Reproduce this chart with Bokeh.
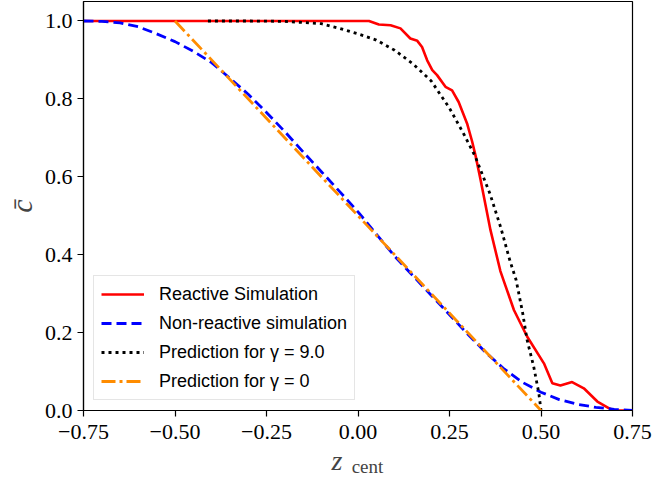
from bokeh.plotting import figure
from bokeh.models import Range1d, FixedTicker, LinearAxis
from bokeh.embed import file_html
from bokeh.resources import INLINE

# ---- data ----
react_x = [-0.75, 0.030, 0.057, 0.089, 0.116, 0.143, 0.162, 0.175, 0.189, 0.203, 0.216,
           0.239, 0.257, 0.275, 0.298, 0.312, 0.321, 0.335, 0.362, 0.389, 0.403, 0.426,
           0.462, 0.508, 0.531, 0.553, 0.585, 0.617, 0.654, 0.685, 0.700, 0.75]
react_y = [1.0, 1.0, 0.991, 0.989, 0.981, 0.955, 0.949, 0.933, 0.899, 0.874, 0.861,
           0.831, 0.822, 0.792, 0.737, 0.690, 0.655, 0.592, 0.463, 0.358, 0.320, 0.258,
           0.190, 0.121, 0.070, 0.064, 0.073, 0.057, 0.023, 0.006, 0.0, 0.0]

nonreact_x = [-0.75, -0.70, -0.65, -0.60, -0.55, -0.50, -0.45, -0.40, -0.35, -0.30, -0.25,
              -0.20, -0.15, -0.10, -0.05, 0.00, 0.05, 0.10, 0.15, 0.20, 0.25, 0.30, 0.35,
              0.40, 0.45, 0.50, 0.55, 0.60, 0.65, 0.70, 0.75]
nonreact_y = [1.0, 0.999, 0.995, 0.985, 0.967, 0.947, 0.922, 0.893, 0.853, 0.812, 0.765,
              0.716, 0.664, 0.613, 0.562, 0.510, 0.453, 0.396, 0.346, 0.296, 0.246, 0.196,
              0.148, 0.106, 0.072, 0.047, 0.028, 0.016, 0.008, 0.003, 0.0]

pred9_x = [-0.41, -0.30, -0.20, -0.10, -0.05, 0.00, 0.05, 0.10, 0.15, 0.20, 0.25, 0.29,
           0.32, 0.36, 0.39, 0.415, 0.432, 0.45, 0.462, 0.48, 0.494, 0.50]
pred9_y = [1.0, 1.0, 0.999, 0.993, 0.981, 0.967, 0.951, 0.925, 0.890, 0.846, 0.776, 0.708,
           0.653, 0.558, 0.470, 0.385, 0.335, 0.250, 0.181, 0.113, 0.045, 0.0]

pred0_x = [-0.5, 0.5]
pred0_y = [1.0, 0.0]

xtick_vals = [-0.75, -0.5, -0.25, 0.0, 0.25, 0.5, 0.75]
xtick_labels = ["\u22120.75", "\u22120.50", "\u22120.25", "0.00", "0.25", "0.50", "0.75"]
ytick_vals = [0.0, 0.2, 0.4, 0.6, 0.8, 1.0]
ytick_labels = ["0.0", "0.2", "0.4", "0.6", "0.8", "1.0"]

SERIF = "Liberation Serif"
SANS = "Liberation Sans"

p = figure(width=652, height=481, output_backend="svg", toolbar_location=None,
           x_range=Range1d(-0.75, 0.75), y_range=Range1d(0, 1.05),
           min_border_left=83, min_border_right=20, min_border_top=1, min_border_bottom=71)

p.line(react_x, react_y, line_color="red", line_width=2.6, legend_label="Reactive Simulation")
p.line(nonreact_x, nonreact_y, line_color="blue", line_width=2.8, line_dash="10 5",
       legend_label="Non-reactive simulation")
p.line(pred9_x, pred9_y, line_color="black", line_width=2.8, line_dash="3 4",
       legend_label="Prediction for \u03b3 = 9.0")
p.line(pred0_x, pred0_y, line_color="darkorange", line_width=2.8, line_dash="14 4 3 4",
       legend_label="Prediction for \u03b3 = 0")

p.grid.visible = False
p.outline_line_color = "black"
p.outline_line_width = 1.2
p.background_fill_color = "white"
p.border_fill_color = "white"

for ax in (p.xaxis[0], p.yaxis[0]):
    ax.axis_line_color = "black"
    ax.axis_line_width = 1.2
    ax.major_tick_line_color = "black"
    ax.major_tick_line_width = 1.2
    ax.major_tick_out = 6
    ax.major_tick_in = 0
    ax.minor_tick_line_color = None
    ax.major_label_text_font = SERIF
    ax.major_label_text_font_size = "22px"
    ax.major_label_text_color = "black"

p.xaxis[0].ticker = FixedTicker(ticks=xtick_vals)
p.xaxis[0].major_label_overrides = dict(zip(xtick_vals, xtick_labels))
p.xaxis[0].major_label_standoff = 8
p.yaxis[0].ticker = FixedTicker(ticks=ytick_vals)
p.yaxis[0].major_label_overrides = dict(zip(ytick_vals, ytick_labels))
p.yaxis[0].major_label_standoff = 5

p.yaxis[0].axis_label = "c\u0304"
p.yaxis[0].axis_label_text_font = SERIF
p.yaxis[0].axis_label_text_font_style = "italic"
p.yaxis[0].axis_label_text_font_size = "30px"
p.yaxis[0].axis_label_standoff = 4

# x-axis label: italic z (main axis) followed by subscript "cent" (second, bare axis)
p.xaxis[0].axis_label = "z\u2003\u2002"
p.xaxis[0].axis_label_text_font = SERIF
p.xaxis[0].axis_label_text_font_style = "italic"
p.xaxis[0].axis_label_text_font_size = "28px"
p.xaxis[0].axis_label_standoff = 3

sub_axis = LinearAxis(ticker=FixedTicker(ticks=[]), axis_line_color=None,
                      major_tick_line_color=None, minor_tick_line_color=None,
                      major_tick_out=0, major_tick_in=0,
                      axis_label="\u2003cent", axis_label_text_font=SERIF,
                      axis_label_text_font_style="normal",
                      axis_label_text_font_size="19px", axis_label_standoff=-23)
p.add_layout(sub_axis, "below")

lg = p.legend[0]
lg.location = (10, 10)
lg.margin = 0
lg.padding = 7
lg.spacing = 7
lg.glyph_width = 43
lg.glyph_height = 22
lg.label_height = 22
lg.label_standoff = 15
lg.label_text_font = SANS
lg.label_text_font_size = "18px"
lg.label_text_color = "black"
lg.border_line_color = "#cccccc"
lg.border_line_width = 1
lg.background_fill_color = "white"
lg.background_fill_alpha = 0.8

open("out.html", "w").write(file_html(p, INLINE))
